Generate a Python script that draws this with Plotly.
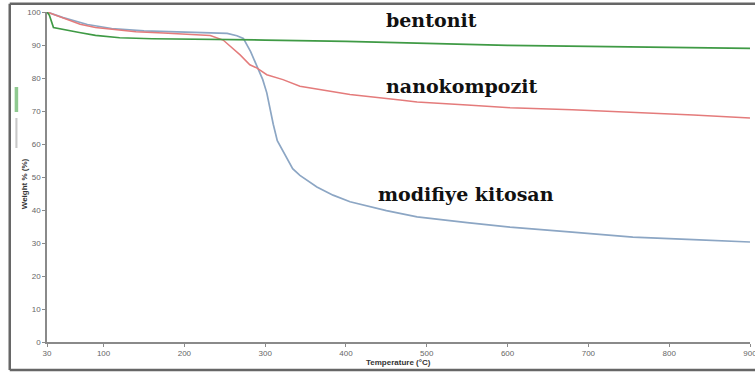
import plotly.graph_objects as go

# ---- data ----
bent_x = [30, 33, 38, 50, 70, 90, 120, 160, 200, 260, 300, 400, 500, 600, 700, 800, 870, 900]
bent_y = [100, 99, 95.3, 94.8, 93.8, 92.9, 92.2, 91.9, 91.8, 91.7, 91.5, 91.1, 90.5, 89.9, 89.6, 89.4, 89.1, 89.0]

nano_x = [30, 50, 71, 90, 112, 140, 174, 200, 232, 248, 269, 281, 290, 302, 322, 343, 405, 467, 488, 550, 603, 680, 755, 830, 900]
nano_y = [100, 98.2, 96.3, 95.3, 94.7, 94.0, 93.6, 93.3, 92.9, 91.5, 87.0, 84.0, 83.0, 81.0, 79.5, 77.5, 75.0, 73.3, 72.7, 71.8, 71.0, 70.4, 69.7, 68.8, 67.9]

kit_x = [30, 50, 80, 110, 150, 200, 240, 253, 265, 273, 282, 290, 297, 302, 306, 310, 315, 322, 334, 343, 364, 384, 405, 450, 488, 550, 603, 680, 755, 830, 900]
kit_y = [100, 98.3, 96.2, 95.0, 94.3, 93.9, 93.7, 93.5, 92.8, 92.0, 88.0, 83.5, 79.5, 75.5, 70.5, 66.0, 61.0, 58.0, 52.5, 50.5, 47.0, 44.5, 42.5, 39.8, 37.9, 36.2, 34.8, 33.3, 31.8, 31.0, 30.3]

x_ticks = [30, 100, 200, 300, 400, 500, 600, 700, 800, 900]
y_ticks = [0, 10, 20, 30, 40, 50, 60, 70, 80, 90, 100]

labels = ["bentonit", "nanokompozit", "modifiye kitosan"]
label_x = [506, 544, 549]
label_y = [97.6, 77.6, 44.8]

fig = go.Figure()
fig.add_trace(go.Scatter(x=kit_x, y=kit_y, mode="lines", line=dict(color="#8ca6c4", width=1.7), name="modifiye kitosan"))
fig.add_trace(go.Scatter(x=nano_x, y=nano_y, mode="lines", line=dict(color="#e47b7b", width=1.5), name="nanokompozit"))
fig.add_trace(go.Scatter(x=bent_x, y=bent_y, mode="lines", line=dict(color="#3f9a45", width=1.7), name="bentonit"))

for t, xx, yy in zip(labels, label_x, label_y):
    fig.add_annotation(x=xx, y=yy, text="<b>%s</b>" % t, showarrow=False,
                       font=dict(family="DejaVu Serif", size=19, color="#111111"))

# axis titles
fig.add_annotation(xref="paper", yref="paper", x=0.5, y=-0.062, text="<b>Temperature (°C)</b>",
                   showarrow=False, yanchor="middle", font=dict(family="Liberation Sans", size=8, color="#333333"))
fig.add_annotation(xref="paper", yref="paper", x=-0.041, y=0.48, text="<b>Weight % (%)</b>", textangle=-90,
                   showarrow=False, font=dict(family="Liberation Sans", size=8, color="#333333"))

# legend-like key marks beside the y title
fig.add_shape(type="rect", xref="paper", yref="paper", x0=-0.046, x1=-0.041, y0=(342-112)/330, y1=(342-87)/330,
              line=dict(width=0), fillcolor="#8fc990")
fig.add_shape(type="rect", xref="paper", yref="paper", x0=-0.045, x1=-0.042, y0=(342-148)/330, y1=(342-118)/330,
              line=dict(width=0), fillcolor="#c8c8c8")

# outer chart border: left, top and bottom sides (right side runs off the picture)
bx0, bx1, by0, by1 = -0.053, 1.01, -0.085, 1.025
for (xa, ya, xb, yb) in [(bx0, by0, bx0, by1), (bx0, by1, bx1, by1), (bx0, by0, bx1, by0)]:
    fig.add_shape(type="line", xref="paper", yref="paper", x0=xa, y0=ya, x1=xb, y1=yb,
                  line=dict(color="#666666", width=2.5), layer="above")

fig.update_layout(
    width=755, height=374,
    margin=dict(l=47, r=5, t=12, b=32, autoexpand=False),
    paper_bgcolor="white", plot_bgcolor="white",
    showlegend=False,
    xaxis=dict(range=[30, 900], tickvals=x_ticks, ticktext=[str(v) for v in x_ticks], automargin=False,
               showgrid=False, zeroline=False, showline=True, linecolor="#8a8a8a", linewidth=1.5,
               ticks="outside", ticklen=3, tickcolor="#8a8a8a", ticklabeloverflow="allow",
               tickfont=dict(family="Liberation Sans", size=8, color="#666666")),
    yaxis=dict(range=[0, 100], tickvals=y_ticks, showgrid=False, zeroline=False, showline=True, automargin=False,
               linecolor="#8a8a8a", linewidth=1.5, ticks="outside", ticklen=3, tickcolor="#8a8a8a",
               tickfont=dict(family="Liberation Sans", size=8, color="#666666")),
)

fig.write_html("out.html")
